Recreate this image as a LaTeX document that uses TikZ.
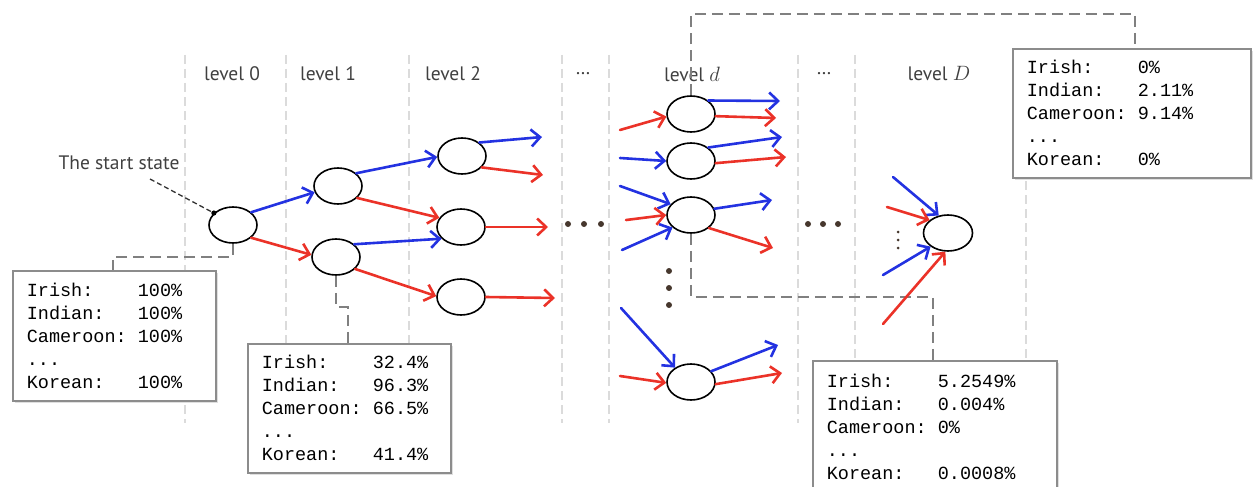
\documentclass[tikz,border=0pt]{standalone}
\usepackage{fontspec}
\setmainfont{PT Sans}
\newfontfamily\monofont{Liberation Mono}
\usetikzlibrary{arrows.meta,shapes.geometric,shadows}
\definecolor{ablue}{RGB}{35,50,225}
\definecolor{ared}{RGB}{235,50,40}
\definecolor{dotc}{RGB}{70,55,45}
\newcommand\mysp{\hphantom{0}}
\begin{document}
\begin{tikzpicture}[x=1pt,y=-1pt,
  st/.style={ellipse,draw=black,line width=1.6pt,fill=white,minimum width=48pt,minimum height=36pt,inner sep=0pt},
  arr/.style={line width=2.6pt,line cap=round,-{Straight Barb[length=9pt,width=17pt]}},
  barr/.style={arr,draw=ablue},
  rarr/.style={arr,draw=ared},
  sep/.style={draw=black!14,line width=1.4pt,dash pattern=on 9pt off 5pt},
  call/.style={draw=black!50,line width=2pt,dash pattern=on 11pt off 6pt},
  lvl/.style={font=\fontsize{19.5}{21}\selectfont,text=black!75,inner sep=0pt},
  info/.style 2 args={draw=black!45,line width=1.6pt,fill=white,anchor=north west,align=left,
     inner xsep=14pt,inner ysep=0pt,minimum width=#1,minimum height=#2,text width=#1-28pt,
     font=\monofont\fontsize{18.5}{23}\selectfont,
     drop shadow={shadow xshift=2pt,shadow yshift=-2pt,opacity=0.25}},
  dot/.style={circle,fill=dotc,inner sep=0pt,minimum size=6pt},
  sdot/.style={circle,fill=dotc,inner sep=0pt,minimum size=3pt},
]
\useasboundingbox (0,0) rectangle (1253,487);

% column separators
\foreach \xx in {185,286,409,562,609,798,855,1026}
  \draw[sep] (\xx,55) -- (\xx,423);

% level labels
\node[lvl] (l0) at (232,74) {level 0};
\node[lvl] (l1) at (328,74) {level 1};
\node[lvl] (l2) at (453,74) {level 2};
\node[lvl] (le1) at (583,74) {\dots};
\node[lvl] (ld) at (692,74) {level $d$};
\node[lvl] (le2) at (824,74) {\dots};
\node[lvl] (lD) at (939,74) {level $D$};

% info boxes
\node[info={203pt}{130pt}] (b1) at (12,270) {Irish:\mysp\mysp\mysp\mysp100\%\\Indian:\mysp\mysp\mysp100\%\\Cameroon:\mysp100\%\\...\\Korean:\mysp\mysp\mysp100\%};
\node[info={203pt}{129pt}] (b2) at (247,343) {Irish:\mysp\mysp\mysp\mysp32.4\%\\Indian:\mysp\mysp\mysp96.3\%\\Cameroon:\mysp66.5\%\\...\\Korean:\mysp\mysp\mysp41.4\%};
\node[info={244pt}{132pt}] (b3) at (812,360) {Irish:\mysp\mysp\mysp\mysp5.2549\%\\Indian:\mysp\mysp\mysp0.004\%\\Cameroon:\mysp0\%\\...\\Korean:\mysp\mysp\mysp0.0008\%};
\node[info={238pt}{129pt}] (b4) at (1012,48) {Irish:\mysp\mysp\mysp\mysp0\%\\Indian:\mysp\mysp\mysp2.11\%\\Cameroon:\mysp9.14\%\\...\\Korean:\mysp\mysp\mysp0\%};

% states
\node[st] (n0) at (233,225) {};
\node[st] (n1a) at (338,186) {};
\node[st] (n1b) at (336,257) {};
\node[st] (n2a) at (462,156) {};
\node[st] (n2b) at (461,227) {};
\node[st] (n2c) at (461,297) {};
\node[st] (d1) at (691,114) {};
\node[st] (d2) at (691,161) {};
\node[st] (d3) at (691,215) {};
\node[st] (d4) at (691,382) {};
\node[st,minimum width=49pt] (nD) at (948,233) {};

% callout connectors
\coordinate (c1a) at (233,257);
\coordinate (c1b) at (113,257);
\draw[call] (n0.south) -- (c1a) -- (c1b) -- (b1.north -| c1b);
\coordinate (c2a) at (336,307);
\coordinate (c2b) at (348,307);
\draw[call] (n1b.south) -- (c2a) -- (c2b) -- (b2.north -| c2b);
\coordinate (c3a) at (691,297);
\coordinate (c3b) at (933,297);
\draw[call] (d3.south) -- (c3a) -- (c3b) -- (b3.north -| c3b);
\coordinate (c4a) at (691,14);
\coordinate (c4b) at (1135,14);
\draw[call] (d1.north) -- (c4a) -- (c4b) -- (b4.north -| c4b);

% start state label
\node[lvl] (ss) at (119,163) {The start state};
\coordinate (ssend) at (150,179);
\draw[black!80,line width=1.3pt,dash pattern=on 5pt off 3pt] (ssend) -- (n0.148);
\fill[black] (n0.148) circle (2.6pt);

% tree arrows
\draw[barr] (n0.35) -- (n1a.195);
\draw[rarr] (n0.-35) -- (n1b.175);
\draw[barr] (n1a.35) -- (n2a.182);
\draw[rarr] (n1a.-32) -- (n2b.157);
\draw[barr] (n1b.35) -- (n2b.211);
\draw[rarr] (n1b.-32) -- (n2c.178);
\coordinate (e2a1) at (542,137);
\coordinate (e2a2) at (543,175);
\coordinate (e2b) at (548,227);
\coordinate (e2c) at (555,298);
\draw[barr] (n2a.38) -- (e2a1);
\draw[rarr] (n2a.-30) -- (e2a2);
\draw[rarr] (n2b.0) -- (e2b);
\draw[rarr] (n2c.0) -- (e2c);

% dots
\node[dot] (h1) at (568,224) {};
\node[dot] (h2) at (584,224) {};
\node[dot] (h3) at (601,224) {};
\node[dot] (h4) at (808,224) {};
\node[dot] (h5) at (823,224) {};
\node[dot] (h6) at (838,224) {};
\node[dot] (v1) at (669,271) {};
\node[dot] (v2) at (669,288) {};
\node[dot] (v3) at (669,305) {};
\node[sdot] (w1) at (898,232) {};
\node[sdot] (w2) at (898,240) {};
\node[sdot] (w3) at (898,248) {};

% level d
\coordinate (i1) at (620,130);
\coordinate (i2) at (620,158);
\coordinate (i3) at (620,186);
\coordinate (i4) at (626,220);
\coordinate (i5) at (622,250);
\coordinate (i6) at (621,308);
\coordinate (i7) at (620,376);
\draw[rarr] (i1) -- (d1.186);
\draw[barr] (i2) -- (d2.180);
\draw[barr] (i3) -- (d3.152);
\draw[rarr] (i4) -- (d3.180);
\draw[barr] (i5) -- (d3.214);
\draw[barr] (i6) -- (d4.138);
\draw[rarr] (i7) -- (d4.182);
\coordinate (o1) at (780,101);
\coordinate (o2) at (776,118);
\coordinate (o3) at (782,137);
\coordinate (o4) at (786,157);
\coordinate (o5) at (772,200);
\coordinate (o6) at (773,248);
\coordinate (o7) at (778,345);
\coordinate (o8) at (782,373);
\draw[barr] (d1.38) -- (o1);
\draw[rarr] (d1.-5) -- (o2);
\draw[barr] (d2.38) -- (o3);
\draw[rarr] (d2.-5) -- (o4);
\draw[barr] (d3.15) -- (o5);
\draw[rarr] (d3.-36) -- (o6);
\draw[barr] (d4.28) -- (o7);
\draw[rarr] (d4.-5) -- (o8);

% level D
\coordinate (j1) at (893,177);
\coordinate (j2) at (887,207);
\coordinate (j3) at (883,275);
\coordinate (j4) at (883,324);
\draw[barr] (j1) -- (nD.118);
\draw[rarr] (j2) -- (nD.145);
\draw[barr] (j3) -- (nD.218);
\draw[rarr] (j4) -- (nD.262);
\end{tikzpicture}
\end{document}
